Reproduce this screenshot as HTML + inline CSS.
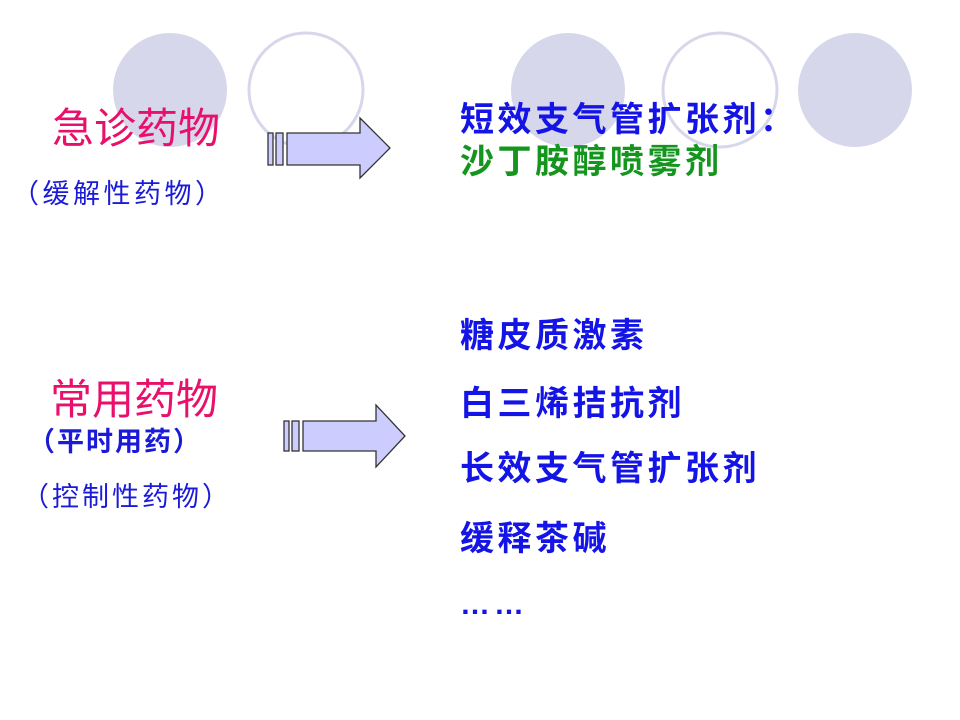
<!DOCTYPE html>
<html><head><meta charset="utf-8"><style>
body{margin:0;width:960px;height:720px;background:#fff;position:relative;overflow:hidden;font-family:"Liberation Sans","Noto Sans CJK SC",sans-serif}
.t{position:absolute;white-space:nowrap;line-height:1}
.pk{color:#e8106a;font-size:42px}
.bl{color:#1a1ad8;font-size:27px}
.r{color:#1414e6;font-size:34px;font-weight:bold;letter-spacing:3.5px;left:460px}
</style></head><body>
<svg width="960" height="720" style="position:absolute;left:0;top:0">
<circle cx="170" cy="90" r="57" fill="#d7d7ec"/>
<circle cx="306" cy="90" r="57" fill="none" stroke="#d7d7ec" stroke-width="3"/>
<circle cx="568" cy="90" r="57" fill="#d7d7ec"/>
<circle cx="720" cy="90" r="57" fill="none" stroke="#d7d7ec" stroke-width="3"/>
<circle cx="855" cy="90" r="57" fill="#d7d7ec"/>
<g fill="#ccccff" stroke="#333" stroke-width="1.3">
<rect x="268" y="133" width="5" height="32"/><rect x="276" y="133" width="7" height="32"/>
<polygon points="287,133 360,133 360,118 390,148 360,178 360,165 287,165"/>
<rect x="284" y="421" width="5" height="30"/><rect x="292" y="421" width="7" height="30"/>
<polygon points="303,421 376,421 376,405 405,436 376,467 376,451 303,451"/>
</g>
</svg>
<div class="t pk" style="left:52px;top:108px">急诊药物</div>
<div class="t bl" style="left:12px;top:181px;letter-spacing:3.5px">（缓解性药物）</div>
<div class="t pk" style="left:50px;top:379px">常用药物</div>
<div class="t bl" style="left:28px;top:429px;font-weight:bold;letter-spacing:2px">（平时用药）</div>
<div class="t bl" style="left:22px;top:484px;letter-spacing:3px">（控制性药物）</div>
<div class="t r" style="top:103px">短效支气管扩张剂：</div>
<div class="t r" style="top:145px;color:#14961e">沙丁胺醇喷雾剂</div>
<div class="t r" style="top:319px">糖皮质激素</div>
<div class="t r" style="top:387px">白三烯拮抗剂</div>
<div class="t r" style="top:452px">长效支气管扩张剂</div>
<div class="t r" style="top:522px">缓释茶碱</div>
<div class="t r" style="top:590px;font-size:30px;letter-spacing:4px">……</div>
</body></html>
